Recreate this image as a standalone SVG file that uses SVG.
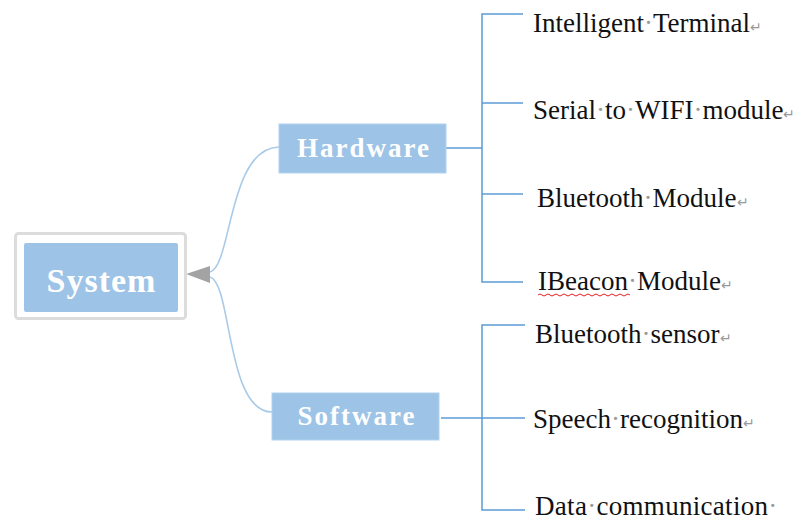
<svg xmlns="http://www.w3.org/2000/svg" width="805" height="526" viewBox="0 0 805 526">
<style>
.box{fill:#9dc3e6;stroke:#b4d2ee;stroke-width:1}
.title{font-family:"Liberation Serif",serif;font-weight:bold;fill:#ffffff;text-anchor:middle}
.leaf{font-family:"Liberation Serif",serif;font-size:27px;fill:#111111}
.mk{fill:#9a9a9a}
.ret{fill:#9a9a9a;font-size:14px}
.tree{fill:none;stroke:#5b9bd5;stroke-width:1.5}
.curve{fill:none;stroke:#a9cbe8;stroke-width:1.6}
</style>
<rect width="805" height="526" fill="#ffffff"/>
<g id="connectors">
<path class="curve" d="M210,272 C232,266 228,148 279,147"/>
<path class="curve" d="M210,277 C232,283 226,412 272,412"/>
<polygon points="186,274 210,266 210,283" fill="#a3a3a3"/>
<path class="tree" d="M446,148 H482"/>
<path class="tree" d="M523,14 H482 V282 H523"/>
<path class="tree" d="M482,103 H523"/>
<path class="tree" d="M482,194 H523"/>
<path class="tree" d="M441,418 H482"/>
<path class="tree" d="M525,325 H482 V510 H525"/>
<path class="tree" d="M482,418 H525"/>
</g>
<g id="system">
<rect x="15.5" y="233.5" width="170" height="85" rx="3" fill="#ffffff" stroke="#dcdcdc" stroke-width="3"/>
<rect x="24" y="243" width="154" height="69" rx="2" fill="#9dc3e6"/>
<text class="title" x="101.5" y="292" font-size="34" letter-spacing="1">System</text>
</g>
<g id="hardware">
<rect class="box" x="279" y="124" width="167" height="49"/>
<text class="title" x="364" y="157" font-size="27" letter-spacing="2">Hardware</text>
</g>
<g id="software">
<rect class="box" x="272" y="393" width="167" height="47"/>
<text class="title" x="357" y="425" font-size="27" letter-spacing="2">Software</text>
</g>
<g id="intelligent-terminal">
<text class="leaf" x="533" y="32">Intelligent<tspan class="mk">·</tspan>Terminal<tspan class="ret">↵</tspan></text>
</g>
<g id="serial-to-wifi">
<text class="leaf" x="533" y="119">Serial<tspan class="mk">·</tspan>to<tspan class="mk">·</tspan>WIFI<tspan class="mk">·</tspan>module<tspan class="ret">↵</tspan></text>
</g>
<g id="bluetooth-module">
<text class="leaf" x="537" y="207">Bluetooth<tspan class="mk">·</tspan>Module<tspan class="ret">↵</tspan></text>
</g>
<g id="ibeacon-module">
<text class="leaf" x="538" y="290">IBeacon<tspan class="mk">·</tspan>Module<tspan class="ret">↵</tspan></text>
<path d="M538,295 q2,-2 4,0 t4,0 t4,0 t4,0 t4,0 t4,0 t4,0 t4,0 t4,0 t4,0 t4,0 t4,0 t4,0 t4,0 t4,0 t4,0 t4,0 t4,0 t4,0 t4,0 t4,0 t4,0 t4,0" fill="none" stroke="#e02020" stroke-width="1"/>
</g>
<g id="bluetooth-sensor">
<text class="leaf" x="535" y="343">Bluetooth<tspan class="mk">·</tspan>sensor<tspan class="ret">↵</tspan></text>
</g>
<g id="speech-recognition">
<text class="leaf" x="533" y="428">Speech<tspan class="mk">·</tspan>recognition<tspan class="ret">↵</tspan></text>
</g>
<g id="data-communication">
<text class="leaf" x="535" y="515" letter-spacing="0.3">Data<tspan class="mk">·</tspan>communication<tspan class="mk">·</tspan></text>
</g>
</svg>
